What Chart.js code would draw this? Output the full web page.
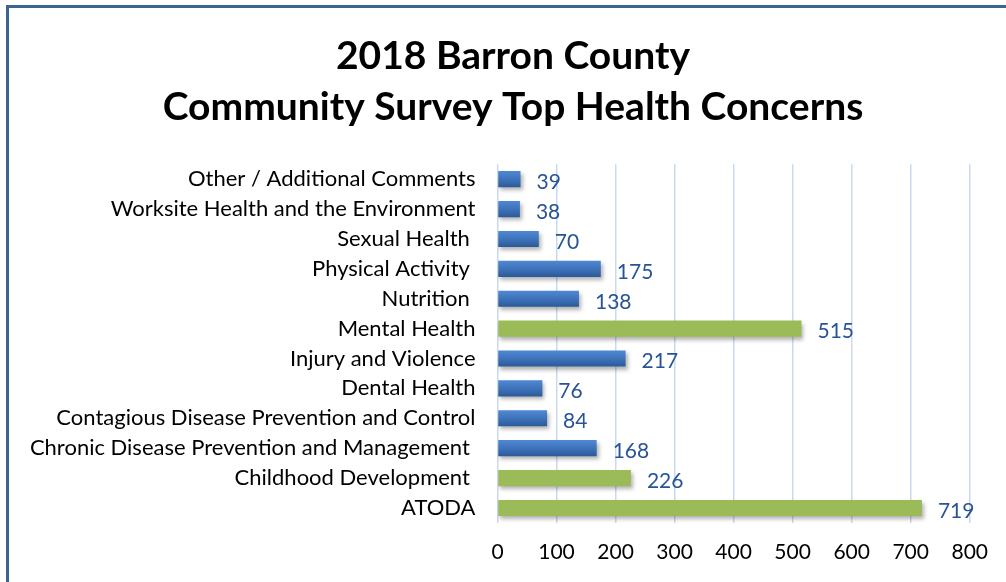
<!DOCTYPE html>
<html>
<head>
<meta charset="utf-8">
<script src="https://cdn.jsdelivr.net/npm/chart.js@4"></script>
<style>
    body { margin: 0; background: #fff; overflow: hidden; }
    #wrap { position: relative; width: 1006px; height: 582px; overflow: hidden; }
    #frame {
        position: absolute; left: 6px; top: 5px; right: -10px; bottom: -10px;
        border-left: 3px solid #3d6592; border-top: 3px solid #3d6592;
        pointer-events: none;
    }
</style>
</head>
<body>
<div id="wrap">
    <canvas id="barChart"></canvas>
    <div id="frame"></div>
</div>
<script>
const titleLines = ['2018 Barron County', 'Community Survey Top Health Concerns'];

const categories = [
    'Other / Additional Comments',
    'Worksite Health and the Environment',
    'Sexual Health ',
    'Physical Activity ',
    'Nutrition ',
    'Mental Health',
    'Injury and Violence',
    'Dental Health',
    'Contagious Disease Prevention and Control',
    'Chronic Disease Prevention and Management ',
    'Childhood Development ',
    'ATODA'
];
const responses = [39, 38, 70, 175, 138, 515, 217, 76, 84, 168, 226, 719];
const priorityAreas = ['Mental Health', 'Childhood Development ', 'ATODA'];

const FONT = 'Lato, "Open Sans", sans-serif';
const GREEN = '#9bbb59';

function barColor(context) {
    const chart = context.chart;
    const idx = context.dataIndex;
    if (priorityAreas.includes(categories[idx])) return GREEN;
    const yScale = chart.scales.y;
    const y = yScale ? yScale.getPixelForValue(idx) : NaN;
    if (!isFinite(y)) return '#3d72b8';
    const g = chart.ctx.createLinearGradient(0, y - 8, 0, y + 8);
    g.addColorStop(0, '#4f88d2');
    g.addColorStop(0.5, '#3e73bb');
    g.addColorStop(1, '#2c5a99');
    return g;
}

const shadowPlugin = {
    id: 'barShadow',
    beforeDatasetDraw(chart) {
        const ctx = chart.ctx;
        ctx.save();
        ctx.shadowColor = 'rgba(0,0,0,0.3)';
        ctx.shadowBlur = 4;
        ctx.shadowOffsetX = 2;
        ctx.shadowOffsetY = 3;
    },
    afterDatasetDraw(chart) {
        chart.ctx.restore();
    }
};

// the long category names run past the layout padding; widen the label clip box
const labelRoom = {
    id: 'labelRoom',
    afterLayout(chart) {
        chart.scales.y.left = 10;
    }
};

const valueLabels = {
    id: 'valueLabels',
    afterDatasetsDraw(chart) {
        const ctx = chart.ctx;
        const meta = chart.getDatasetMeta(0);
        ctx.save();
        ctx.font = '21px ' + FONT;
        ctx.fillStyle = '#285495';
        ctx.textAlign = 'left';
        ctx.textBaseline = 'middle';
        meta.data.forEach((bar, i) => {
            ctx.fillText(String(responses[i]), bar.x + 16, bar.y + 3);
        });
        ctx.restore();
    }
};

new Chart(document.getElementById('barChart'), {
    type: 'bar',
    data: {
        labels: categories,
        datasets: [{
            data: responses,
            backgroundColor: barColor,
            borderWidth: 0,
            barPercentage: 0.54,
            categoryPercentage: 1
        }]
    },
    options: {
        indexAxis: 'y',
        responsive: true,
        maintainAspectRatio: false,
        animation: false,
        devicePixelRatio: 1,
        layout: {
            padding: { left: 56, right: 36, top: 0, bottom: 0 }
        },
        scales: {
            x: {
                min: 0,
                max: 800,
                ticks: {
                    stepSize: 100,
                    color: '#000',
                    font: { family: FONT, size: 21, lineHeight: 1.1 },
                    padding: 18
                },
                grid: { color: '#c9daf0', lineWidth: 1.5, drawTicks: false },
                border: { display: false }
            },
            y: {
                ticks: {
                    color: '#000',
                    font: { family: FONT, size: 22 },
                    padding: 22,
                    autoSkip: false
                },
                grid: { display: false, drawTicks: false },
                border: { display: false },
                afterFit(scale) { scale.width = 441.5; }
            }
        },
        plugins: {
            legend: { display: false },
            tooltip: { enabled: false },
            title: {
                display: true,
                text: titleLines,
                color: '#000',
                font: { family: FONT, size: 39, weight: 'bold', lineHeight: 1.33 },
                padding: { top: 30, bottom: 30.5 }
            }
        }
    },
    plugins: [shadowPlugin, labelRoom, valueLabels]
});
</script>
</body>
</html>
